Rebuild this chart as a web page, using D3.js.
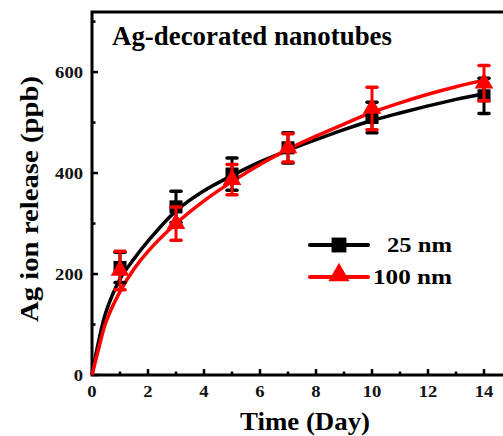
<!DOCTYPE html>
<html>
<head>
<meta charset="utf-8">
<script src="https://cdn.jsdelivr.net/npm/d3@7"></script>
<style>
  body { margin: 0; background: #fff; }
  svg { display: block; font-family: "Liberation Serif", "Times New Roman", serif; font-weight: bold; }
</style>
</head>
<body>
<div id="chart"></div>
<script>
// measured points (day, ppb, error)
const days = [1, 3, 5, 7, 10, 14];
const nm25 = [213, 333, 398, 450, 510, 553];
const nm25Err = [30, 31, 32, 30, 30, 35];
const nm100 = [207, 300, 387, 450, 528, 578];
const nm100Err = [38, 33, 30, 28, 42, 35];

// fitted curves
const fitDays = [0, 0.25, 0.5, 1, 1.5, 2, 3, 4, 5, 6, 7, 8, 9, 10, 11, 12, 13, 14];
const fit25 = [0, 70, 125, 190, 230, 265, 325, 365, 395, 422, 445, 466, 486, 504, 519, 533, 546, 557];
const fit100 = [0, 55, 105, 165, 210, 245, 300, 345, 383, 417, 447, 473, 497, 520, 539, 556, 571, 584];

const xTicks = [0, 2, 4, 6, 8, 10, 12, 14];
const yTicks = [0, 200, 400, 600];

const width = 503, height = 436;
const margin = {top: 12, left: 92, bottom: 61};

const svg = d3.select("#chart").append("svg")
    .attr("width", width)
    .attr("height", height);

const x = d3.scaleLinear().domain([0, 15]).range([margin.left, margin.left + 420]);
const y = d3.scaleLinear().domain([0, 719]).range([height - margin.bottom, margin.top]);

// frame
svg.append("rect")
    .attr("x", x(0)).attr("y", y(719))
    .attr("width", x(15) - x(0)).attr("height", y(0) - y(719))
    .attr("fill", "none").attr("stroke", "#000").attr("stroke-width", 3);

// x ticks (inward)
const xAxis = svg.append("g");
xAxis.selectAll("line.major").data(xTicks).enter().append("line")
    .attr("x1", d => x(d)).attr("x2", d => x(d))
    .attr("y1", y(0)).attr("y2", y(0) - 6)
    .attr("stroke", "#000").attr("stroke-width", 2.5);
xAxis.selectAll("line.minor").data(d3.range(1, 15, 2)).enter().append("line")
    .attr("x1", d => x(d)).attr("x2", d => x(d))
    .attr("y1", y(0)).attr("y2", y(0) - 3.5)
    .attr("stroke", "#000").attr("stroke-width", 2.5);
xAxis.selectAll("text").data(xTicks).enter().append("text")
    .attr("x", d => x(d)).attr("y", y(0) + 22)
    .attr("text-anchor", "middle").attr("font-size", 17).attr("fill", "#111")
    .attr("textLength", d => String(d).length * 9.3).attr("lengthAdjust", "spacingAndGlyphs")
    .text(d => d);

// y ticks (inward)
const yAxis = svg.append("g");
yAxis.selectAll("line.major").data(yTicks).enter().append("line")
    .attr("x1", x(0)).attr("x2", x(0) + 6)
    .attr("y1", d => y(d)).attr("y2", d => y(d))
    .attr("stroke", "#000").attr("stroke-width", 2.5);
yAxis.selectAll("line.minor").data([100, 300, 500, 700]).enter().append("line")
    .attr("x1", x(0)).attr("x2", x(0) + 3.5)
    .attr("y1", d => y(d)).attr("y2", d => y(d))
    .attr("stroke", "#000").attr("stroke-width", 2.5);
yAxis.selectAll("text").data(yTicks).enter().append("text")
    .attr("x", x(0) - 9).attr("y", d => y(d) + 6)
    .attr("text-anchor", "end").attr("font-size", 17).attr("fill", "#111")
    .attr("textLength", d => String(d).length * 9.3).attr("lengthAdjust", "spacingAndGlyphs")
    .text(d => d);

// axis titles
svg.append("text")
    .attr("x", 305).attr("y", 430)
    .attr("text-anchor", "middle").attr("font-size", 25)
    .attr("textLength", 130).attr("lengthAdjust", "spacingAndGlyphs")
    .text("Time (Day)");
svg.append("text")
    .attr("transform", `translate(38, 199) rotate(-90)`)
    .attr("text-anchor", "middle").attr("font-size", 26)
    .attr("textLength", 246).attr("lengthAdjust", "spacingAndGlyphs")
    .text("Ag ion release (ppb)");

svg.append("text")
    .attr("x", 112).attr("y", 45)
    .attr("font-size", 27)
    .attr("textLength", 280).attr("lengthAdjust", "spacingAndGlyphs")
    .text("Ag-decorated nanotubes");

const line = d3.line().curve(d3.curveCatmullRom).x(d => x(d[0])).y(d => y(d[1]));

const series = [
    {vals: nm25, err: nm25Err, fit: fit25, color: "#000", shape: d3.symbolSquare, size: 170},
    {vals: nm100, err: nm100Err, fit: fit100, color: "#ff0000", shape: d3.symbolTriangle, size: 150}
];

series.forEach(s => {
    svg.append("path")
        .datum(fitDays.map((d, i) => [d, s.fit[i]]))
        .attr("d", line)
        .attr("fill", "none").attr("stroke", s.color).attr("stroke-width", 3.5);
});

series.forEach(s => {
    const g = svg.append("g");
    days.forEach((d, i) => {
        const cx = x(d), top = y(s.vals[i] + s.err[i]), bot = y(s.vals[i] - s.err[i]);
        g.append("line").attr("x1", cx).attr("x2", cx).attr("y1", top).attr("y2", bot)
            .attr("stroke", s.color).attr("stroke-width", 3);
        [top, bot].forEach(yy => g.append("line")
            .attr("x1", cx - 5).attr("x2", cx + 5).attr("y1", yy).attr("y2", yy)
            .attr("stroke", s.color).attr("stroke-width", 3.5).attr("stroke-linecap", "round"));
        g.append("path")
            .attr("d", d3.symbol().type(s.shape).size(s.size)())
            .attr("transform", `translate(${cx},${y(s.vals[i])})`)
            .attr("fill", s.color);
    });
});

// legend
const legend = [{label: "25 nm", y: 245, w: 65}, {label: "100 nm", y: 277, w: 79}];
legend.forEach((l, i) => {
    const s = series[i];
    svg.append("line").attr("x1", 310).attr("x2", 368).attr("y1", l.y).attr("y2", l.y)
        .attr("stroke", s.color).attr("stroke-width", 4).attr("stroke-linecap", "round");
    svg.append("path")
        .attr("d", d3.symbol().type(s.shape).size(s.size * 1.3)())
        .attr("transform", `translate(339,${l.y - (i ? 2 : 0)})`)
        .attr("fill", s.color);
    svg.append("text")
        .attr("x", 452).attr("y", l.y + 7)
        .attr("text-anchor", "end").attr("font-size", 21)
        .attr("textLength", l.w).attr("lengthAdjust", "spacingAndGlyphs")
        .text(l.label);
});
</script>
</body>
</html>
